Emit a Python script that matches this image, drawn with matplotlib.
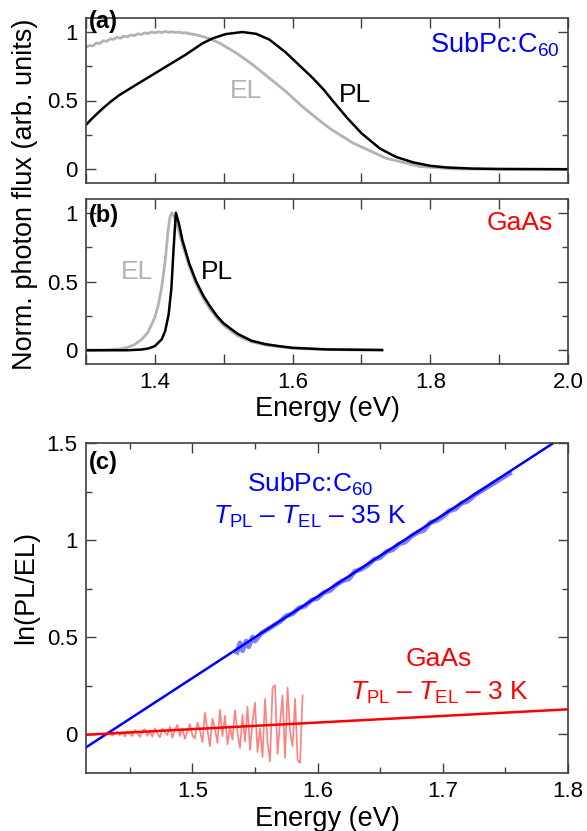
import matplotlib
matplotlib.use("Agg")
import matplotlib.pyplot as plt
from matplotlib.ticker import MultipleLocator, FuncFormatter

plt.rcParams["font.family"] = ["Liberation Sans", "DejaVu Sans"]
plt.rcParams["mathtext.fontset"] = "custom"
plt.rcParams["mathtext.rm"] = "Liberation Sans"
plt.rcParams["mathtext.it"] = "Liberation Sans:italic"
plt.rcParams["mathtext.bf"] = "Liberation Sans:bold"

# (a) SubPc:C60 spectra
pl_a_e = [1.300, 1.310, 1.322, 1.335, 1.348, 1.373, 1.397, 1.421, 1.445, 1.469,
          1.484, 1.503, 1.527, 1.547, 1.566, 1.590, 1.610, 1.629, 1.645, 1.658,
          1.679, 1.700, 1.727, 1.750, 1.775, 1.800, 1.824, 1.860, 1.90, 2.00]
pl_a_y = [0.323, 0.375, 0.432, 0.488, 0.538, 0.615, 0.688, 0.761, 0.834, 0.915,
          0.952, 0.983, 0.998, 0.985, 0.944, 0.850, 0.755, 0.665, 0.580, 0.500,
          0.375, 0.262, 0.150, 0.090, 0.050, 0.025, 0.013, 0.005, 0.002, 0.0]

el_a_e = [1.300, 1.305, 1.310, 1.315, 1.320, 1.325, 1.330, 1.335, 1.340, 1.345,
          1.350, 1.355, 1.360, 1.365, 1.370, 1.375, 1.380, 1.385, 1.390, 1.395,
          1.400, 1.405, 1.410, 1.415, 1.420, 1.425, 1.430, 1.435, 1.440, 1.445,
          1.450, 1.460, 1.469, 1.480, 1.494, 1.518, 1.542, 1.566, 1.590, 1.614,
          1.639, 1.656, 1.688, 1.736, 1.785, 1.833, 1.90, 2.00]
el_a_y = [0.888, 0.900, 0.897, 0.918, 0.915, 0.935, 0.930, 0.948, 0.945, 0.960,
          0.953, 0.968, 0.963, 0.977, 0.972, 0.985, 0.980, 0.992, 0.987, 0.998,
          0.992, 1.000, 0.994, 1.002, 0.996, 1.000, 0.994, 0.998, 0.991, 0.993,
          0.986, 0.978, 0.966, 0.948, 0.918, 0.846, 0.761, 0.664, 0.567, 0.457,
          0.355, 0.290, 0.190, 0.080, 0.020, 0.003, 0.0, 0.0]

# (b) GaAs spectra
pl_b_e = [1.30, 1.36, 1.38, 1.39, 1.40, 1.41, 1.415, 1.42, 1.424, 1.427, 1.4305,
          1.435, 1.44, 1.45, 1.46, 1.47, 1.48, 1.49, 1.50, 1.52, 1.54, 1.56,
          1.58, 1.60, 1.65, 1.73]
pl_b_y = [0.0, 0.0, 0.005, 0.012, 0.03, 0.08, 0.14, 0.26, 0.45, 0.72, 1.0,
          0.92, 0.80, 0.63, 0.50, 0.40, 0.32, 0.25, 0.195, 0.12, 0.07, 0.045,
          0.03, 0.018, 0.006, 0.002]

el_b_e = [1.30, 1.33, 1.35, 1.36, 1.37, 1.38, 1.39, 1.40, 1.405, 1.41, 1.415,
          1.419, 1.422, 1.4245, 1.428, 1.432, 1.44, 1.45, 1.46, 1.47, 1.48,
          1.49, 1.50, 1.52, 1.54, 1.56, 1.60, 1.65, 1.73]
el_b_y = [0.0, 0.003, 0.01, 0.02, 0.04, 0.075, 0.13, 0.24, 0.33, 0.46, 0.65,
          0.86, 0.97, 1.0, 0.97, 0.92, 0.77, 0.61, 0.48, 0.38, 0.30,
          0.235, 0.18, 0.105, 0.062, 0.038, 0.014, 0.005, 0.0]

# (c) ln(PL/EL)
sub_e = [1.535, 1.538, 1.540, 1.543, 1.545, 1.548, 1.550, 1.555, 1.560, 1.565,
         1.570, 1.575, 1.580, 1.585, 1.590, 1.595, 1.600, 1.605, 1.610, 1.615,
         1.620, 1.625, 1.630, 1.635, 1.640, 1.645, 1.650, 1.655, 1.660, 1.665,
         1.670, 1.675, 1.680, 1.685, 1.690, 1.695, 1.700, 1.705, 1.710, 1.715,
         1.720, 1.725, 1.730, 1.735, 1.740, 1.745, 1.750, 1.755]
sub_y = [0.41, 0.47, 0.43, 0.48, 0.45, 0.50, 0.48, 0.52, 0.54, 0.56,
         0.58, 0.61, 0.62, 0.65, 0.66, 0.69, 0.70, 0.73, 0.74, 0.77,
         0.79, 0.80, 0.84, 0.85, 0.87, 0.90, 0.91, 0.94, 0.95, 0.98,
         0.99, 1.02, 1.04, 1.05, 1.09, 1.10, 1.12, 1.15, 1.16, 1.19,
         1.20, 1.23, 1.25, 1.27, 1.29, 1.31, 1.33, 1.35]

gaas_e = [1.432, 1.434, 1.436, 1.438, 1.440, 1.442, 1.444, 1.446, 1.448, 1.450,
          1.452, 1.454, 1.456, 1.458, 1.460, 1.462, 1.464, 1.466, 1.468, 1.470,
          1.472, 1.474, 1.476, 1.478, 1.480, 1.482, 1.484, 1.486, 1.488, 1.490,
          1.492, 1.494, 1.496, 1.498, 1.500, 1.502, 1.504, 1.506, 1.508, 1.510,
          1.512, 1.514, 1.516, 1.518, 1.520, 1.522, 1.524, 1.526, 1.528, 1.530,
          1.532, 1.534, 1.536, 1.538, 1.540, 1.542, 1.544, 1.546, 1.548, 1.550,
          1.552, 1.554, 1.556, 1.558, 1.560, 1.562, 1.564, 1.566, 1.568, 1.570,
          1.572, 1.574, 1.576, 1.578, 1.580, 1.582, 1.584, 1.586, 1.588]
gaas_y = [0.000, 0.012, -0.008, 0.004, 0.014, -0.006, 0.010, -0.012, 0.016, 0.002,
          -0.010, 0.022, 0.008, -0.014, 0.018, 0.026, -0.008, 0.012, -0.012, 0.030,
          0.004, -0.016, 0.028, 0.010, -0.004, 0.038, -0.018, 0.022, 0.048, -0.010,
          0.030, -0.024, 0.014, 0.052, -0.006, -0.022, 0.060, 0.020, -0.042, 0.110,
          0.020, -0.062, 0.080, 0.030, -0.045, 0.125, -0.010, 0.095, -0.052, 0.040,
          -0.028, 0.122, 0.010, -0.072, 0.100, -0.038, 0.142, -0.082, 0.060, 0.162,
          -0.092, 0.030, -0.118, 0.182, -0.040, -0.140, 0.240, 0.252, -0.102, 0.060,
          0.200, -0.122, 0.240, 0.010, -0.062, 0.182, -0.135, -0.148, 0.200]

fit_e = [1.415, 1.80]
fit_sub = [-0.068, 1.549]
fit_gaas = [-0.003, 0.128]

W, H = 587, 831
fig = plt.figure(figsize=(W / 100, H / 100), dpi=100)


def ax_box(l, t, r, b):
    return [l / W, 1 - b / H, (r - l) / W, (b - t) / H]


ax_a = fig.add_axes(ax_box(86, 18, 568, 183))
ax_b = fig.add_axes(ax_box(86, 199, 568, 364))
ax_c = fig.add_axes(ax_box(86, 443, 568, 773))

yfmt = FuncFormatter(lambda v, _: f"{v:g}")
xfmt = FuncFormatter(lambda v, _: f"{v:.1f}")
spine_col = "#404040"

for ax in (ax_a, ax_b, ax_c):
    for s in ax.spines.values():
        s.set_color(spine_col)
        s.set_linewidth(1.2)
    ax.tick_params(which="both", direction="in", top=True, right=True,
                   color=spine_col, width=1.0, labelsize=16)
    ax.tick_params(which="major", length=7, pad=6)
    ax.tick_params(which="minor", length=4.5)
    ax.yaxis.set_major_formatter(yfmt)
    ax.xaxis.set_major_formatter(xfmt)

for ax in (ax_a, ax_b):
    ax.set_xlim(1.3, 2.0)
    ax.set_ylim(-0.1, 1.1)
    ax.xaxis.set_major_locator(MultipleLocator(0.2))
    ax.xaxis.set_minor_locator(MultipleLocator(0.1))
    ax.tick_params(axis="x", which="minor", length=7)
    ax.yaxis.set_major_locator(MultipleLocator(0.5))
    ax.yaxis.set_minor_locator(MultipleLocator(0.25))

ax_a.tick_params(axis="x", labelbottom=False)

# panel (a)
ax_a.plot(el_a_e, el_a_y, color="#b3b3b3", lw=2.0)
ax_a.plot(pl_a_e, pl_a_y, color="black", lw=1.8)
ax_a.text(0.006, 0.976, "(a)", transform=ax_a.transAxes, fontsize=17,
          fontweight="bold", va="center", ha="left")
ax_a.text(1.532, 0.57, "EL", color="#b3b3b3", fontsize=19, ha="center", va="center")
ax_a.text(1.690, 0.54, "PL", color="black", fontsize=19, ha="center", va="center")
ax_a.text(0.982, 0.84, "SubPc:C$_{60}$", transform=ax_a.transAxes, color="#0000ff",
          fontsize=19.5, ha="right", va="center")

# panel (b)
ax_b.plot(el_b_e, el_b_y, color="#b3b3b3", lw=2.0)
ax_b.plot(pl_b_e, pl_b_y, color="black", lw=1.8)
ax_b.text(0.006, 0.897, "(b)", transform=ax_b.transAxes, fontsize=17,
          fontweight="bold", va="center", ha="left")
ax_b.text(1.374, 0.57, "EL", color="#b3b3b3", fontsize=19, ha="center", va="center")
ax_b.text(1.490, 0.57, "PL", color="black", fontsize=19, ha="center", va="center")
ax_b.text(0.968, 0.855, "GaAs", transform=ax_b.transAxes, color="#ff0000",
          fontsize=19, ha="right", va="center")

# panel (c)
ax_c.set_xlim(1.415, 1.8)
ax_c.set_ylim(-0.2, 1.5)
ax_c.xaxis.set_major_locator(MultipleLocator(0.1))
ax_c.xaxis.set_minor_locator(MultipleLocator(0.05))
ax_c.yaxis.set_major_locator(MultipleLocator(0.5))
ax_c.yaxis.set_minor_locator(MultipleLocator(0.25))

ax_c.plot(sub_e, sub_y, color="#8080ff", lw=3.5, solid_capstyle="butt")
ax_c.plot(gaas_e, gaas_y, color="#ff8080", lw=1.2)
ax_c.plot(fit_e, fit_sub, color="#0000ff", lw=1.8)
ax_c.plot(fit_e, fit_gaas, color="#ff0000", lw=1.8)
ax_c.text(0.006, 0.942, "(c)", transform=ax_c.transAxes, fontsize=17,
          fontweight="bold", va="center", ha="left")
ax_c.text(1.594, 1.285, "SubPc:C$_{60}$", color="#0000ff", fontsize=19,
          ha="center", va="center")
ax_c.text(1.594, 1.12, r"$T_{\mathrm{PL}}$ – $T_{\mathrm{EL}}$ – 35 K", color="#0000ff",
          fontsize=19, ha="center", va="center")
ax_c.text(1.697, 0.389, "GaAs", color="#ff0000", fontsize=19, ha="center", va="center")
ax_c.text(1.697, 0.212, r"$T_{\mathrm{PL}}$ – $T_{\mathrm{EL}}$ – 3 K", color="#ff0000",
          fontsize=19, ha="center", va="center")

# axis labels
fig.text(25 / W, 1 - 194 / H, "Norm. photon flux (arb. units)", rotation=90,
         fontsize=19.5, ha="center", va="center")
fig.text(26 / W, 1 - 587 / H, "ln(PL/EL)", rotation=90,
         fontsize=19.5, ha="center", va="center")
fig.text(327 / W, 1 - 409 / H, "Energy (eV)", fontsize=19.5, ha="center", va="center")
fig.text(327 / W, 1 - 819 / H, "Energy (eV)", fontsize=19.5, ha="center", va="center")

fig.savefig("out.png", dpi=100)
